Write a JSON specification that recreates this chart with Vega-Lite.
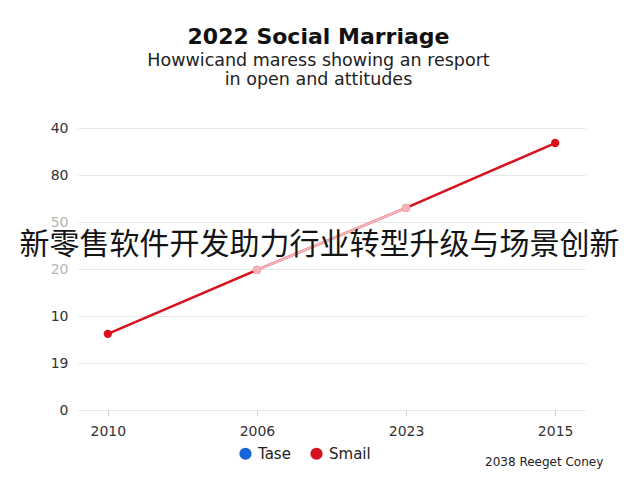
{
  "$schema": "https://vega.github.io/schema/vega-lite/v6.json",
  "width": 507,
  "height": 282,
  "autosize": "none",
  "padding": {"left": 78, "top": 128, "right": 55, "bottom": 70},
  "background": "white",
  "title": {
    "text": "2022 Social Marriage",
    "subtitle": ["Howwicand maress showing an resport", "in open and attitudes"],
    "font": "DejaVu Sans",
    "fontSize": 22,
    "fontWeight": "bold",
    "color": "#111111",
    "subtitleFont": "DejaVu Sans",
    "subtitleFontSize": 17.5,
    "subtitleColor": "#222222",
    "subtitlePadding": 3,
    "subtitleLineHeight": 19,
    "anchor": "middle",
    "frame": "group",
    "dx": -13,
    "offset": 32
  },
  "config": {
    "view": {"stroke": null},
    "font": "DejaVu Sans"
  },
  "datasets": {
    "main": [
      {"year": "2010", "series": "Smail", "value": 1.62},
      {"year": "2006", "series": "Smail", "value": 2.98},
      {"year": "2023", "series": "Smail", "value": 4.3},
      {"year": "2015", "series": "Smail", "value": 5.68}
    ]
  },
  "layer": [
    {
      "data": {"name": "main"},
      "mark": {"type": "line", "strokeWidth": 2.5, "color": "#d7101e"},
      "encoding": {
        "x": {
          "field": "year",
          "type": "ordinal",
          "sort": ["2010", "2006", "2023", "2015"],
          "scale": {"type": "point", "padding": 0.2},
          "axis": {
            "title": null,
            "labelAngle": 0,
            "labelFontSize": 14,
            "labelColor": "#333333",
            "labelPadding": 8,
            "tickSize": 6,
            "tickColor": "#d0d0d0",
            "domain": false,
            "grid": false
          }
        },
        "y": {
          "field": "value",
          "type": "quantitative",
          "scale": {"domain": [0, 6], "nice": false},
          "axis": {
            "title": null,
            "values": [0, 1, 2, 3, 4, 5, 6],
            "labelExpr": "['0','19','10','20','50','80','40'][datum.value]",
            "labelFontSize": 14,
            "labelColor": {"condition": {"test": "datum.value == 3 || datum.value == 4", "value": "#b5b5b5"}, "value": "#333333"},
            "labelPadding": 10,
            "ticks": false,
            "domain": false,
            "gridColor": "#e6e6e6"
          }
        }
      }
    },
    {
      "data": {"name": "main"},
      "transform": [{"filter": "datum.year == '2006' || datum.year == '2023'"}],
      "mark": {"type": "line", "strokeWidth": 2.5, "color": "#f3b3b8"},
      "encoding": {
        "x": {"field": "year", "type": "ordinal", "sort": ["2010", "2006", "2023", "2015"]},
        "y": {"field": "value", "type": "quantitative"}
      }
    },
    {
      "data": {"name": "main"},
      "mark": {"type": "circle", "size": 70, "opacity": 1},
      "encoding": {
        "x": {"field": "year", "type": "ordinal", "sort": ["2010", "2006", "2023", "2015"]},
        "y": {"field": "value", "type": "quantitative"},
        "color": {
          "field": "series",
          "type": "nominal",
          "scale": {"domain": ["Tase", "Smail"], "range": ["#1565d8", "#d7101e"]},
          "legend": {
            "title": null,
            "orient": "none",
            "direction": "horizontal",
            "legendX": 160,
            "legendY": 318,
            "symbolType": "circle",
            "symbolSize": 150,
            "symbolOpacity": 1,
            "labelFontSize": 15,
            "labelColor": "#222222",
            "labelOffset": 5,
            "columnPadding": 18
          }
        }
      }
    },
    {
      "data": {"name": "main"},
      "transform": [{"filter": "datum.year == '2006' || datum.year == '2023'"}],
      "mark": {"type": "circle", "size": 70, "opacity": 1, "color": "#f3b3b8"},
      "encoding": {
        "x": {"field": "year", "type": "ordinal", "sort": ["2010", "2006", "2023", "2015"]},
        "y": {"field": "value", "type": "quantitative"}
      }
    },
    {
      "data": {"values": [{"label": "新零售软件开发助力行业转型升级与场景创新"}]},
      "mark": {"type": "text", "font": "Noto Sans CJK SC", "fontSize": 30, "color": "#141414", "baseline": "middle", "align": "center", "dx": -12},
      "encoding": {
        "y": {"datum": 3.52},
        "text": {"field": "label"}
      }
    },
    {
      "data": {"values": [{"note": "2038 Reeget Coney"}]},
      "mark": {"type": "text", "fontSize": 12, "color": "#222222", "baseline": "middle", "align": "center", "dx": -11},
      "encoding": {
        "x": {"datum": "2015"},
        "y": {"datum": -1.1},
        "text": {"field": "note"}
      }
    }
  ]
}
